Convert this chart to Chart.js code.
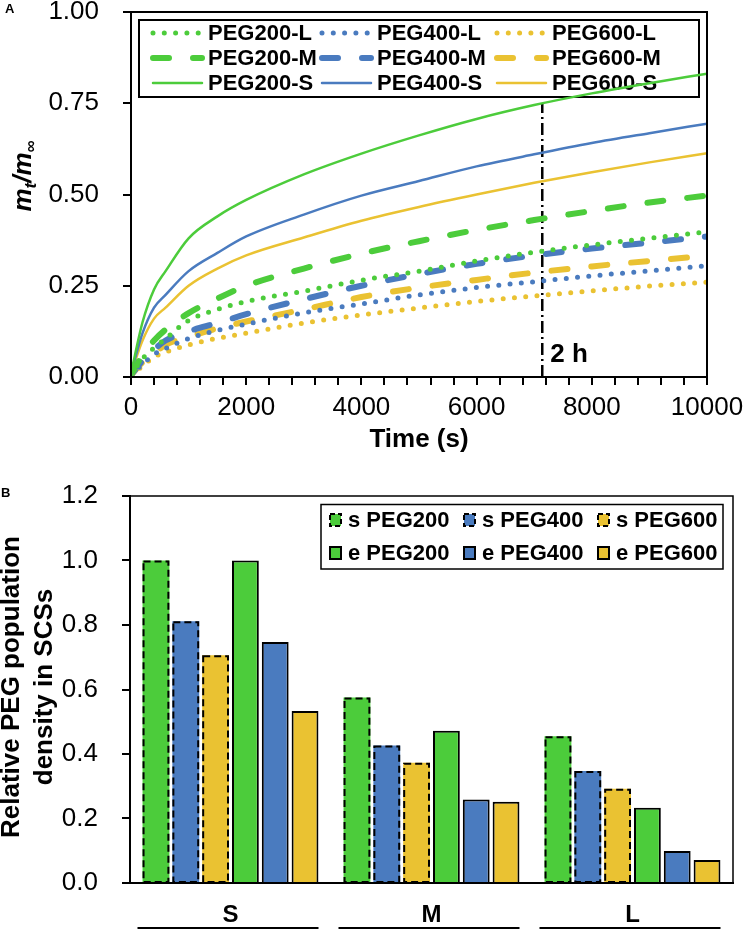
<!DOCTYPE html>
<html>
<head>
<meta charset="utf-8">
<script src="https://cdn.jsdelivr.net/npm/chart.js@4/dist/chart.umd.min.js"></script>
<style>
  body { margin: 0; background: #fff; }
  #wrap { position: relative; width: 743px; height: 930px; }
  #releaseChart { position: absolute; left: 0; top: 0; }
  #densityChart { position: absolute; left: 0; top: 465px; }
</style>
</head>
<body>
<div id="wrap">
  <canvas id="releaseChart" width="743" height="465"></canvas>
  <canvas id="densityChart" width="743" height="465"></canvas>
</div>
<script>
const FONT = "'Liberation Sans', Arial, sans-serif";
const GREEN = "#4ccc3b";
const BLUE = "#4a7bbf";
const YELLOW = "#eac232";

// ---- panel A : release curves ----
const times = [0, 200, 400, 600, 1000, 1500, 2000, 3000, 4000, 5000, 6000, 7000, 8000, 9000, 10000];
const peg200L = [0.005, 0.05, 0.08, 0.105, 0.155, 0.185, 0.207, 0.235, 0.265, 0.29, 0.318, 0.342, 0.362, 0.38, 0.398];
const peg400L = [0.005, 0.035, 0.062, 0.078, 0.105, 0.128, 0.145, 0.176, 0.2, 0.225, 0.245, 0.261, 0.277, 0.291, 0.305];
const peg600L = [0.005, 0.03, 0.055, 0.068, 0.088, 0.106, 0.12, 0.148, 0.17, 0.189, 0.207, 0.222, 0.236, 0.249, 0.26];
const peg200M = [0.005, 0.06, 0.1, 0.13, 0.175, 0.215, 0.25, 0.297, 0.338, 0.372, 0.403, 0.43, 0.455, 0.478, 0.497];
const peg400M = [0.005, 0.045, 0.075, 0.1, 0.125, 0.148, 0.172, 0.213, 0.25, 0.282, 0.31, 0.333, 0.352, 0.368, 0.385];
const peg600M = [0.005, 0.04, 0.065, 0.088, 0.11, 0.133, 0.152, 0.185, 0.219, 0.245, 0.266, 0.286, 0.303, 0.318, 0.332];
const peg200S = [0.01, 0.15, 0.24, 0.29, 0.38, 0.44, 0.485, 0.555, 0.612, 0.662, 0.707, 0.745, 0.777, 0.805, 0.831];
const peg400S = [0.01, 0.12, 0.19, 0.225, 0.29, 0.34, 0.385, 0.445, 0.497, 0.537, 0.577, 0.61, 0.641, 0.668, 0.694];
const peg600S = [0.01, 0.1, 0.16, 0.19, 0.25, 0.297, 0.333, 0.382, 0.428, 0.466, 0.5, 0.532, 0.561, 0.588, 0.613];
const timeLabels = [0, 2000, 4000, 6000, 8000, 10000];
const fracTicks = [0, 0.25, 0.5, 0.75, 1.0];
const twoHourTime = 7140;
const twoHourTop = 0.75;

// ---- panel B : population density ----
const sizeGroups = ["S", "M", "L"];
const sPEG200 = [1.0, 0.575, 0.455];
const sPEG400 = [0.812, 0.426, 0.347];
const sPEG600 = [0.706, 0.373, 0.292];
const ePEG200 = [1.0, 0.472, 0.233];
const ePEG400 = [0.747, 0.259, 0.099];
const ePEG600 = [0.533, 0.252, 0.071];
const densityTicks = [0, 0.2, 0.4, 0.6, 0.8, 1.0, 1.2];

const lineStyles = {
  L: { borderWidth: 5, borderDash: [0, 11.3] },
  M: { borderWidth: 6, borderDash: [16, 24] },
  S: { borderWidth: 2.5, borderDash: [] }
};

// keep the plot box where the layout padding puts it
function noLabelPadding(s) {
  s.paddingTop = 0;
  s.paddingBottom = 0;
  s.paddingLeft = 0;
  s.paddingRight = 0;
}

function curve(label, values, color, kind) {
  return {
    label: label,
    data: times.map((t, i) => ({ x: t, y: values[i] })),
    borderColor: color,
    borderWidth: lineStyles[kind].borderWidth,
    borderDash: lineStyles[kind].borderDash,
    borderCapStyle: "round",
    pointRadius: 0,
    cubicInterpolationMode: "monotone",
    fill: false
  };
}

const curves = [
  curve("PEG200-L", peg200L, GREEN, "L"),
  curve("PEG400-L", peg400L, BLUE, "L"),
  curve("PEG600-L", peg600L, YELLOW, "L"),
  curve("PEG200-M", peg200M, GREEN, "M"),
  curve("PEG400-M", peg400M, BLUE, "M"),
  curve("PEG600-M", peg600M, YELLOW, "M"),
  curve("PEG200-S", peg200S, GREEN, "S"),
  curve("PEG400-S", peg400S, BLUE, "S"),
  curve("PEG600-S", peg600S, YELLOW, "S")
];

const markerLine = {
  label: "2 h",
  data: [{ x: twoHourTime, y: 0 }, { x: twoHourTime, y: twoHourTop }],
  borderColor: "#000",
  borderWidth: 2.5,
  borderDash: [12, 4, 2, 4],
  pointRadius: 0,
  fill: false
};

const releaseDecor = {
  id: "releaseDecor",
  beforeDatasetsDraw(chart) {
    // legend box sits under the curves
    const ctx = chart.ctx;
    ctx.save();
    ctx.strokeStyle = "#000";
    ctx.lineWidth = 2;
    ctx.strokeRect(139, 20, 560, 77);
    const textX = [208, 377, 552];
    const rowY = [33, 58, 83];
    ctx.font = "bold 22px " + FONT;
    ctx.textBaseline = "middle";
    curves.forEach((ds, i) => {
      const col = i % 3, row = Math.floor(i / 3);
      const y = rowY[row];
      ctx.beginPath();
      ctx.strokeStyle = ds.borderColor;
      ctx.lineWidth = ds.borderWidth;
      ctx.lineCap = "round";
      ctx.setLineDash(ds.borderDash);
      ctx.moveTo(textX[col] - 55, y);
      ctx.lineTo(textX[col] - 6, y);
      ctx.stroke();
      ctx.setLineDash([]);
      ctx.fillStyle = "#000";
      ctx.fillText(ds.label, textX[col], y + 1);
    });
    ctx.restore();
  },
  afterDraw(chart) {
    const ctx = chart.ctx;
    const ca = chart.chartArea;
    ctx.save();
    ctx.strokeStyle = "#000";
    ctx.lineWidth = 2;
    ctx.strokeRect(ca.left, ca.top, ca.right - ca.left, ca.bottom - ca.top);

    // 2 h label
    const xs = chart.scales.x;
    ctx.fillStyle = "#000";
    ctx.font = "bold 26px " + FONT;
    ctx.textBaseline = "alphabetic";
    ctx.fillText("2 h", xs.getPixelForValue(twoHourTime) + 8, 362);

    // y title m_t / m_inf
    ctx.translate(31, 176);
    ctx.rotate(-Math.PI / 2);
    const big = "italic bold 26px " + FONT;
    const small = "italic bold 17px " + FONT;
    const parts = [["m", big, 0], ["t", small, 5], ["/m", big, 0], ["\u221e", small, 5]];
    let total = 0;
    parts.forEach(p => { ctx.font = p[1]; total += ctx.measureText(p[0]).width; });
    let x = -total / 2;
    parts.forEach(p => {
      ctx.font = p[1];
      ctx.fillText(p[0], x, p[2]);
      x += ctx.measureText(p[0]).width;
    });
    ctx.restore();

    ctx.save();
    ctx.fillStyle = "#000";
    ctx.font = "bold 13px " + FONT;
    ctx.fillText("A", 5, 13);
    ctx.restore();
  }
};

new Chart(document.getElementById("releaseChart"), {
  type: "line",
  data: { datasets: curves.concat([markerLine]) },
  options: {
    responsive: false,
    animation: false,
    events: [],
    layout: { padding: { top: 12, right: 36, left: 0, bottom: 0 } },
    plugins: { legend: { display: false }, tooltip: { enabled: false } },
    scales: {
      x: {
        type: "linear",
        min: 0,
        max: 10000,
        afterFit: s => { s.height = 88; noLabelPadding(s); },
        ticks: {
          stepSize: 400,
          autoSkip: false,
          maxRotation: 0,
          padding: 7,
          color: "#000",
          font: { family: FONT, size: 26 },
          callback: v => (timeLabels.includes(v) ? String(v) : "")
        },
        grid: { drawOnChartArea: false, tickLength: 8, color: "#000", lineWidth: 2 },
        border: { color: "#000", width: 2 },
        title: {
          display: true,
          text: "Time (s)",
          color: "#000",
          font: { family: FONT, size: 26, weight: "bold" },
          padding: { top: 0, bottom: 10 }
        }
      },
      y: {
        min: 0,
        max: 1,
        afterFit: s => { s.width = 131; noLabelPadding(s); },
        afterBuildTicks: s => { s.ticks = fracTicks.map(v => ({ value: v })); },
        ticks: {
          padding: 24,
          color: "#000",
          font: { family: FONT, size: 26 },
          callback: v => v.toFixed(2)
        },
        grid: { drawOnChartArea: false, tickLength: 8, color: "#000", lineWidth: 2 },
        border: { color: "#000", width: 2 }
      }
    }
  },
  plugins: [releaseDecor]
});

// ---- panel B ----
const barSets = [
  { label: "s PEG200", data: sPEG200, color: GREEN, dashed: true },
  { label: "s PEG400", data: sPEG400, color: BLUE, dashed: true },
  { label: "s PEG600", data: sPEG600, color: YELLOW, dashed: true },
  { label: "e PEG200", data: ePEG200, color: GREEN, dashed: false },
  { label: "e PEG400", data: ePEG400, color: BLUE, dashed: false },
  { label: "e PEG600", data: ePEG600, color: YELLOW, dashed: false }
];

const densityDecor = {
  id: "densityDecor",
  afterDatasetsDraw(chart) {
    const ctx = chart.ctx;
    ctx.save();
    ctx.strokeStyle = "#000";
    ctx.lineWidth = 2;
    ctx.setLineDash([7, 4]);
    chart.data.datasets.forEach((ds, i) => {
      if (!ds.dashedEdge) return;
      chart.getDatasetMeta(i).data.forEach(bar => {
        const p = bar.getProps(["x", "y", "base", "width"], true);
        ctx.strokeRect(p.x - p.width / 2 + 1, p.y + 1, p.width - 2, p.base - p.y - 1);
      });
    });
    ctx.restore();
  },
  afterDraw(chart) {
    const ctx = chart.ctx;
    const ca = chart.chartArea;
    ctx.save();
    ctx.strokeStyle = "#000";
    ctx.lineWidth = 1.5;
    ctx.beginPath();
    ctx.moveTo(ca.left, ca.top);
    ctx.lineTo(ca.right, ca.top);
    ctx.lineTo(ca.right, ca.bottom);
    ctx.stroke();

    // legend
    ctx.strokeRect(321, 39.5, 402, 64.5);
    const markX = [330, 464, 598];
    const rowY = [55, 88];
    ctx.font = "bold 22px " + FONT;
    ctx.textBaseline = "middle";
    barSets.forEach((b, i) => {
      const col = i % 3, row = Math.floor(i / 3);
      const y = rowY[row];
      ctx.fillStyle = b.color;
      ctx.fillRect(markX[col], y - 6, 11, 12);
      ctx.lineWidth = 2;
      ctx.setLineDash(b.dashed ? [5, 3] : []);
      ctx.strokeRect(markX[col], y - 6, 11, 12);
      ctx.setLineDash([]);
      ctx.fillStyle = "#000";
      ctx.fillText(b.label, markX[col] + 18, y + 1);
    });

    // group underlines
    const xs = chart.scales.x;
    ctx.lineWidth = 2;
    sizeGroups.forEach((g, i) => {
      const c = xs.getPixelForValue(i);
      ctx.beginPath();
      ctx.moveTo(c - 93, 463);
      ctx.lineTo(c + 88, 463);
      ctx.stroke();
    });

    // y title
    ctx.save();
    ctx.translate(0, 222);
    ctx.rotate(-Math.PI / 2);
    ctx.font = "bold 26px " + FONT;
    ctx.textAlign = "center";
    ctx.textBaseline = "middle";
    ctx.fillText("Relative PEG population", 0, 12);
    ctx.fillText("density in SCSs", 0, 45);
    ctx.restore();

    ctx.font = "bold 13px " + FONT;
    ctx.textBaseline = "alphabetic";
    ctx.fillText("B", 1, 32);
    ctx.restore();
  }
};

new Chart(document.getElementById("densityChart"), {
  type: "bar",
  data: {
    labels: sizeGroups,
    datasets: barSets.map(b => ({
      label: b.label,
      data: b.data,
      backgroundColor: b.color,
      borderColor: "#000",
      borderWidth: b.dashed ? 0 : 2,
      dashedEdge: b.dashed,
      categoryPercentage: 0.89,
      barPercentage: 0.9
    }))
  },
  options: {
    responsive: false,
    animation: false,
    events: [],
    layout: { padding: { top: 31, right: 10, left: 0, bottom: 0 } },
    plugins: { legend: { display: false }, tooltip: { enabled: false } },
    scales: {
      x: {
        afterFit: s => { s.height = 47; noLabelPadding(s); },
        ticks: {
          padding: 18,
          color: "#000",
          font: { family: FONT, size: 24, weight: "bold" }
        },
        grid: { display: true, drawOnChartArea: false, drawTicks: false },
        border: { color: "#000", width: 2 }
      },
      y: {
        min: 0,
        max: 1.2,
        afterFit: s => { s.width = 130; noLabelPadding(s); },
        afterBuildTicks: s => { s.ticks = densityTicks.map(v => ({ value: v })); },
        ticks: {
          padding: 24,
          color: "#000",
          font: { family: FONT, size: 26 },
          callback: v => v.toFixed(1)
        },
        grid: { drawOnChartArea: false, tickLength: 8, color: "#000", lineWidth: 2 },
        border: { color: "#000", width: 2 }
      }
    }
  },
  plugins: [densityDecor]
});
</script>
</body>
</html>
